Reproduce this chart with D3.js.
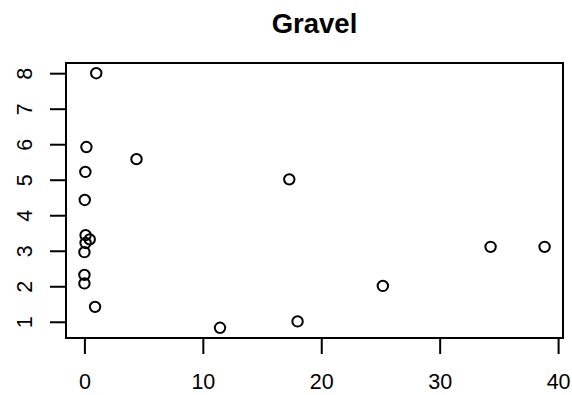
<!DOCTYPE html>
<html>
<head>
<meta charset="utf-8">
<script src="https://cdn.jsdelivr.net/npm/d3@7"></script>
<style>
  body { margin: 0; background: #fff; }
  text { font-family: "Liberation Sans", Arial, sans-serif; fill: #000; }
</style>
</head>
<body>
<div id="chart"></div>
<script>

  // data
  var xValues = [1.0, 0.17, 4.4, 0.08, 0.03, 0.1, 0.45, 0.1, 0.0, 0.0, 0.0, 0.9, 11.45, 17.3, 34.3, 38.86, 25.2, 18.0];
  var yValues = [8.0, 5.92, 5.58, 5.22, 4.43, 3.44, 3.32, 3.22, 2.96, 2.32, 2.08, 1.42, 0.83, 5.01, 3.11, 3.11, 2.01, 1.01];
  var xTicks = [0, 10, 20, 30, 40];
  var yTicks = [1, 2, 3, 4, 5, 6, 7, 8];
  var title = "Gravel";

  var width = 572, height = 395;
  var margin = { top: 63, right: 9, bottom: 57, left: 66 };
  var labelSize = "21.5px";

  var points = xValues.map(function(d, i){ return { x: d, y: yValues[i] }; });

  var svg = d3.select("#chart")
    .append("svg")
    .attr("width", width)
    .attr("height", height);

  // R style 4% range extension
  var xExt = d3.extent(xValues), yExt = d3.extent(yValues);
  var xPad = (xExt[1] - xExt[0]) * 0.04, yPad = (yExt[1] - yExt[0]) * 0.04;

  var x = d3.scaleLinear()
    .domain([xExt[0] - xPad, xExt[1] + xPad])
    .range([margin.left, width - margin.right]);

  var y = d3.scaleLinear()
    .domain([yExt[0] - yPad, yExt[1] + yPad])
    .range([height - margin.bottom, margin.top]);

  // title
  svg.append("text")
    .attr("x", (margin.left + width - margin.right) / 2)
    .attr("y", 33)
    .attr("text-anchor", "middle")
    .style("font-size", "27.5px")
    .style("font-weight", "bold")
    .text(title);

  // x axis
  var xAxis = svg.append("g")
    .attr("transform", `translate(0, ${height - margin.bottom})`)
    .call(d3.axisBottom(x).tickValues(xTicks).tickSize(16).tickPadding(20));
  xAxis.selectAll("text").style("font-size", labelSize).attr("dy", "0.71em");

  // y axis
  var yAxis = svg.append("g")
    .attr("transform", `translate(${margin.left}, 0)`)
    .call(d3.axisLeft(y).tickValues(yTicks).tickSize(16).tickPadding(0));
  yAxis.selectAll("text").remove();
  yAxis.selectAll(".tick")
    .append("text")
    .attr("transform", "translate(-34, 0) rotate(-90)")
    .attr("text-anchor", "middle")
    .style("font-size", labelSize)
    .text(function(d){ return d; });

  [xAxis, yAxis].forEach(function(g){
    g.select(".domain").remove();
    g.selectAll("line").attr("stroke", "#000").attr("stroke-width", 2);
  });

  // axis line between first and last tick, like R
  svg.append("line")
    .attr("x1", x(xTicks[0])).attr("x2", x(xTicks[xTicks.length - 1]))
    .attr("y1", height - margin.bottom).attr("y2", height - margin.bottom)
    .attr("stroke", "#000").attr("stroke-width", 2);

  // plot box
  svg.append("rect")
    .attr("x", margin.left)
    .attr("y", margin.top)
    .attr("width", width - margin.left - margin.right)
    .attr("height", height - margin.top - margin.bottom)
    .attr("fill", "none")
    .attr("stroke", "#000")
    .attr("stroke-width", 2);

  // points
  svg.append("g")
    .selectAll("circle")
    .data(points)
    .enter()
    .append("circle")
    .attr("cx", function(d){ return x(d.x); })
    .attr("cy", function(d){ return y(d.y); })
    .attr("r", 5.2)
    .attr("fill", "none")
    .attr("stroke", "#000")
    .attr("stroke-width", 2);

</script>
</body>
</html>
